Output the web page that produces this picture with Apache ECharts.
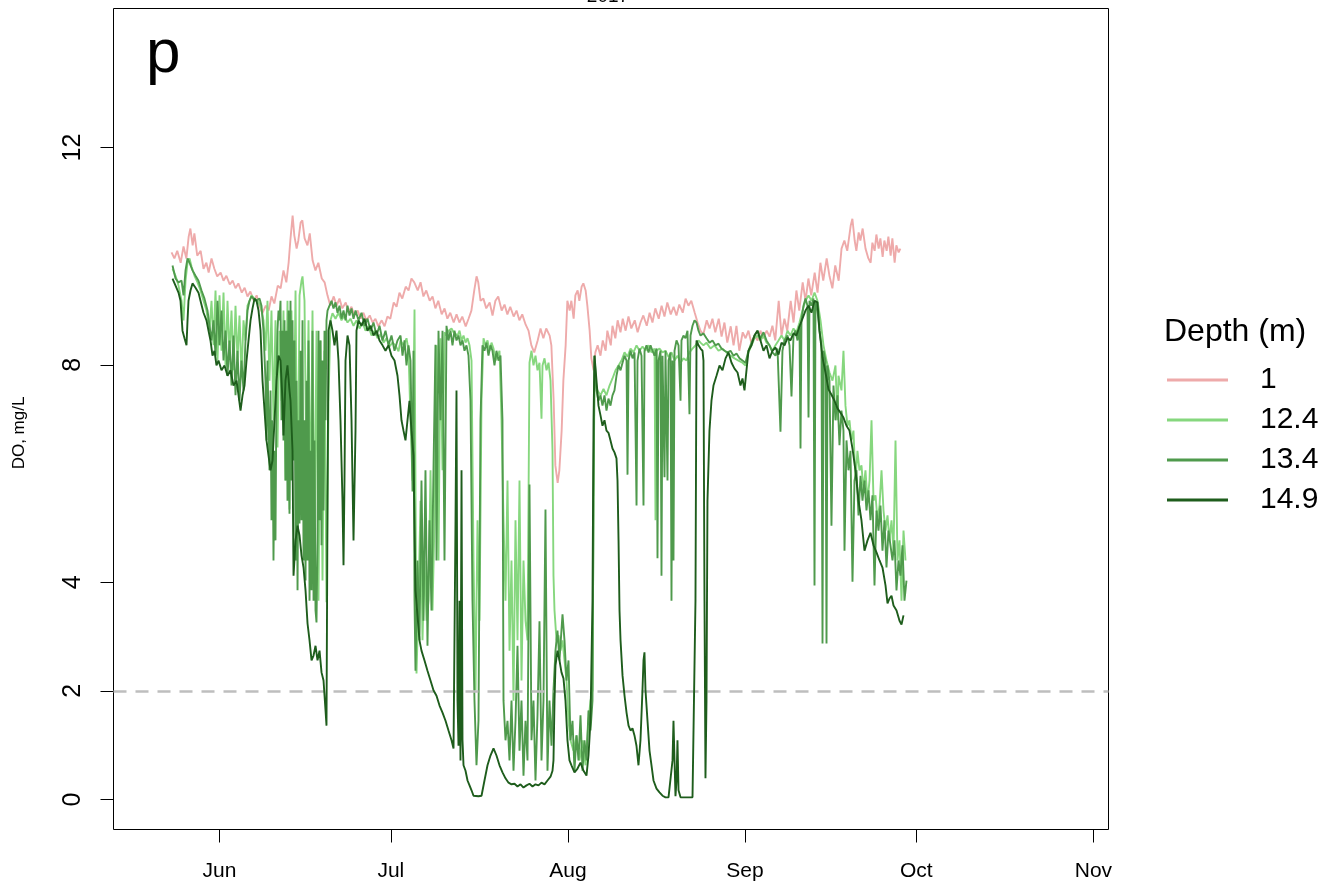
<!DOCTYPE html>
<html><head><meta charset="utf-8">
<script src="https://cdn.jsdelivr.net/npm/echarts@6/dist/echarts.min.js"></script>
<style>html,body{margin:0;padding:0;background:#fff}#c{width:1326px;height:885px}</style>
</head><body><div id="c"></div>
<script>
// x = days since 1 June 2017, y = dissolved oxygen (mg/L)
const monthNames = ['Jun','Jul','Aug','Sep','Oct','Nov'];
const monthStartDays = [0,30,61,92,122,153];
const yTicks = [0,2,4,8,12];
const depthNames = ['1','12.4','13.4','14.9'];
const hypoxiaThreshold = 2;
const panelLetter = 'p';
const yearTitle = '2017';
const yAxisTitle = 'DO, mg/L';
const legendTitle = 'Depth (m)';

const do_1m = [[-8.4,10.07],[-7.9,9.96],[-7.4,10.10],[-6.8,9.88],[-6.3,10.18],[-5.8,9.96],[-5.4,10.36],[-5.1,10.51],[-4.7,10.20],[-4.4,10.42],[-3.9,10.01],[-3.3,10.10],[-2.8,9.77],[-2.3,9.88],[-1.9,9.70],[-1.4,9.96],[-0.9,9.77],[-0.4,9.63],[0.2,9.70],[0.7,9.55],[1.2,9.64],[1.8,9.48],[2.3,9.55],[2.8,9.41],[3.3,9.50],[3.9,9.33],[4.4,9.42],[4.9,9.26],[5.4,9.35],[6.0,9.18],[6.5,9.28],[7.0,9.09],[7.5,8.95],[8.1,9.09],[8.6,9.00],[9.1,9.26],[9.6,9.13],[10.2,9.46],[10.7,9.41],[11.2,9.74],[11.7,9.52],[12.1,9.88],[12.4,10.29],[12.8,10.75],[13.1,10.38],[13.5,10.14],[13.8,10.29],[14.2,10.62],[14.5,10.66],[14.9,10.33],[15.4,10.20],[15.8,10.42],[16.3,9.92],[16.8,9.74],[17.3,9.88],[17.9,9.59],[18.4,9.52],[18.9,9.28],[19.4,9.09],[20.0,9.26],[20.5,9.09],[21.0,9.22],[21.5,9.04],[22.1,9.15],[22.6,8.96],[23.1,9.07],[23.6,8.91],[24.2,9.00],[24.7,8.85],[25.2,8.96],[25.7,8.82],[26.3,8.91],[26.8,8.78],[27.3,8.85],[27.8,8.71],[28.4,8.82],[28.9,8.71],[29.4,8.89],[29.9,8.85],[30.5,9.15],[31.0,9.07],[31.5,9.33],[32.0,9.22],[32.6,9.44],[33.1,9.37],[33.6,9.59],[34.1,9.52],[34.7,9.37],[35.2,9.52],[35.7,9.26],[36.2,9.37],[36.8,9.18],[37.3,9.26],[37.8,9.04],[38.3,9.18],[38.9,8.93],[39.4,9.04],[39.9,8.85],[40.4,8.96],[41.0,8.78],[41.5,8.93],[42.0,8.78],[42.5,8.89],[43.1,8.71],[43.6,8.85],[44.1,9.00],[44.6,9.37],[45.0,9.63],[45.3,9.52],[45.7,9.18],[46.2,9.22],[46.7,9.04],[47.3,9.15],[47.8,8.91],[48.3,9.18],[48.8,9.26],[49.4,9.00],[49.9,9.11],[50.4,8.93],[50.9,9.07],[51.5,8.89],[52.0,9.00],[52.5,8.82],[53.0,8.93],[53.6,8.74],[54.1,8.63],[54.6,8.36],[55.1,8.23],[55.7,8.45],[56.2,8.67],[56.7,8.49],[57.2,8.67],[57.8,8.54],[58.1,8.36],[58.5,7.34],[58.8,6.15],[59.2,5.83],[59.5,6.06],[59.9,6.79],[60.2,7.71],[60.6,8.36],[60.9,9.18],[61.3,9.00],[61.6,9.18],[62.0,8.85],[62.3,9.28],[62.7,9.37],[63.0,9.18],[63.4,9.44],[63.7,9.50],[64.1,9.37],[64.4,9.09],[64.8,8.63],[65.1,8.12],[65.5,7.90],[65.8,8.23],[66.2,8.36],[66.7,8.17],[67.1,8.45],[67.6,8.26],[67.9,8.63],[68.5,8.36],[68.8,8.72],[69.3,8.49],[69.7,8.82],[70.2,8.60],[70.6,8.85],[71.1,8.63],[71.6,8.89],[72.1,8.67],[72.7,8.82],[73.2,8.60],[73.7,8.78],[74.2,8.91],[74.8,8.72],[75.3,8.96],[75.8,8.78],[76.3,9.04],[76.9,8.85],[77.4,9.09],[77.9,8.89],[78.4,9.15],[79.0,8.93],[79.5,9.07],[80.0,8.91],[80.5,9.11],[81.1,8.96],[81.6,9.22],[82.1,9.09],[82.6,9.18],[83.2,8.96],[83.7,8.78],[84.2,8.63],[84.7,8.56],[85.3,8.82],[85.8,8.67],[86.3,8.85],[86.8,8.60],[87.4,8.85],[87.9,8.52],[88.4,8.78],[88.9,8.41],[89.5,8.71],[90.0,8.36],[90.5,8.72],[91.0,8.26],[91.6,8.60],[92.1,8.49],[92.6,8.63],[93.1,8.41],[93.7,8.54],[94.2,8.45],[94.7,8.63],[95.2,8.49],[95.8,8.63],[96.3,8.52],[96.8,8.72],[97.3,8.45],[97.9,9.18],[98.4,8.54],[98.9,8.85],[99.4,8.63],[100.0,9.18],[100.5,8.78],[101.0,9.37],[101.5,9.00],[102.1,9.52],[102.6,9.18],[103.1,9.59],[103.6,9.28],[104.2,9.70],[104.7,9.33],[105.2,9.88],[105.7,9.55],[106.3,9.96],[106.8,9.63],[107.3,9.41],[107.8,9.83],[108.4,9.55],[108.9,10.14],[109.4,10.29],[109.9,10.10],[110.5,10.56],[110.8,10.69],[111.2,10.29],[111.5,10.10],[111.9,10.44],[112.2,10.29],[112.6,10.51],[113.1,10.14],[113.6,9.96],[114.0,9.88],[114.3,10.25],[114.7,10.10],[115.0,10.40],[115.4,10.14],[115.7,10.33],[116.1,9.99],[116.4,10.29],[116.8,10.10],[117.1,10.36],[117.5,10.01],[117.8,10.33],[118.2,9.88],[118.5,10.20],[118.9,10.07],[119.2,10.14]];

const do_12_4m = [[-8.23,9.77],[-7.70,9.64],[-7.18,9.46],[-6.65,9.18],[-6.30,8.82],[-5.95,9.55],[-5.60,9.88],[-5.25,9.96],[-4.90,9.81],[-4.38,9.64],[-3.85,9.52],[-3.33,9.37],[-2.80,9.18],[-2.28,9.00],[-1.75,8.63],[-1.40,9.18],[-1.05,8.36],[-0.70,9.37],[-0.35,8.08],[0.00,9.28],[0.35,8.26],[0.70,9.33],[1.05,7.99],[1.40,9.18],[1.75,8.17],[2.10,9.00],[2.45,7.90],[2.80,9.09],[3.15,8.08],[3.50,8.91],[3.85,7.80],[4.20,8.82],[4.55,8.45],[4.90,9.09],[5.25,9.18],[5.60,9.28],[6.13,9.22],[6.65,9.18],[7.18,9.09],[7.70,8.82],[8.05,8.26],[8.40,9.18],[8.75,7.71],[9.10,9.00],[9.45,6.98],[9.80,8.82],[10.15,6.48],[10.50,8.63],[10.85,7.34],[11.20,9.00],[11.55,5.87],[11.90,9.18],[12.25,5.34],[12.60,9.00],[12.96,6.42],[13.31,9.37],[13.66,5.02],[14.01,9.28],[14.36,9.55],[14.53,9.63],[14.88,9.18],[15.23,5.87],[15.58,8.82],[15.93,5.14],[16.28,9.00],[16.63,4.40],[16.98,8.63],[17.33,3.66],[17.68,8.45],[18.03,4.03],[18.38,8.26],[18.73,3.63],[19.08,7.34],[19.43,8.82],[19.78,8.95],[20.31,8.85],[20.83,8.96],[21.36,8.82],[21.88,8.91],[22.41,8.78],[22.93,8.85],[23.46,8.72],[23.98,8.82],[24.51,8.67],[25.04,8.78],[25.56,8.63],[26.09,8.71],[26.61,8.54],[27.14,8.63],[27.66,8.49],[28.19,8.56],[28.71,8.41],[29.24,8.49],[29.76,8.34],[30.29,8.41],[30.81,8.36],[31.34,8.25],[31.69,8.45],[32.21,8.36],[32.74,8.49],[33.09,8.26],[33.44,6.98],[33.79,5.87],[34.14,9.02],[34.49,2.32],[34.84,3.66],[35.19,5.50],[35.54,2.93],[35.89,4.40],[36.24,3.29],[36.59,3.66],[36.94,6.06],[37.29,3.48],[37.64,5.14],[37.99,8.36],[38.34,4.40],[38.69,8.49],[39.04,6.06],[39.39,8.60],[39.74,8.54],[40.09,8.63],[40.62,8.67],[40.97,8.60],[41.32,8.63],[41.67,8.54],[42.02,8.63],[42.37,8.45],[42.72,8.54],[43.07,8.41],[43.42,8.49],[43.77,8.36],[44.12,8.08],[44.47,4.40],[44.82,2.01],[45.17,5.14],[45.52,3.29],[45.87,7.34],[46.22,8.49],[46.57,8.36],[46.92,8.45],[47.27,8.26],[47.62,8.41],[47.97,8.30],[48.32,8.08],[48.67,8.17],[49.02,8.26],[49.37,6.98],[49.72,5.14],[50.07,3.66],[50.42,5.87],[50.77,2.74],[51.12,4.40],[51.47,1.82],[51.82,5.14],[52.17,2.93],[52.52,5.87],[52.87,2.19],[53.22,4.40],[53.57,3.29],[53.92,2.93],[54.10,5.50],[54.27,8.04],[54.62,8.26],[54.97,7.99],[55.32,8.17],[55.67,7.90],[56.02,8.04],[56.37,7.01],[56.55,7.99],[56.90,8.12],[57.25,7.90],[57.60,8.04],[57.95,7.71],[58.30,6.42],[58.47,4.12],[58.65,3.48],[59.00,2.93],[59.35,3.02],[59.70,2.74],[60.05,2.93],[60.40,2.56],[60.75,2.19],[61.10,1.45],[61.45,1.09],[61.97,0.90],[62.50,1.18],[63.03,0.72],[63.55,1.09],[64.08,0.63],[64.60,1.45],[64.95,1.82],[65.30,2.01],[65.48,5.50],[65.65,7.71],[66.18,7.53],[66.70,7.44],[67.23,7.56],[67.75,7.44],[68.28,7.62],[68.80,7.75],[69.33,7.90],[69.86,7.99],[70.38,8.08],[70.91,8.23],[71.43,8.15],[71.96,8.30],[72.48,8.23],[73.01,8.36],[73.53,8.26],[74.06,8.34],[74.58,8.26],[75.11,8.36],[75.63,8.23],[76.16,8.30],[76.33,5.14],[76.51,8.26],[77.03,8.30],[77.56,8.23],[78.08,8.26],[78.61,8.15],[79.13,8.23],[79.66,8.08],[80.18,8.17],[80.71,8.04],[81.23,8.12],[81.76,8.08],[82.28,8.23],[82.81,8.30],[83.33,8.36],[83.86,8.45],[84.21,8.41],[84.73,8.36],[85.26,8.41],[85.96,8.30],[86.66,8.36],[87.36,8.26],[88.06,8.30],[88.76,8.23],[89.46,8.17],[90.16,8.12],[90.86,8.08],[91.56,8.04],[92.09,7.99],[92.61,8.23],[93.14,8.36],[93.66,8.49],[94.19,8.54],[94.71,8.45],[95.24,8.54],[95.76,8.41],[96.29,8.36],[96.81,8.26],[97.34,8.36],[97.87,8.45],[98.39,8.54],[98.92,8.45],[99.44,8.63],[99.96,8.54],[100.49,8.67],[101.01,8.60],[101.54,8.78],[102.06,9.00],[102.59,9.18],[103.12,9.28],[103.64,9.18],[104.17,9.33],[104.69,9.18],[105.22,8.82],[105.74,8.36],[106.27,8.08],[106.79,7.86],[107.32,7.71],[107.84,7.99],[108.19,6.98],[108.37,7.80],[108.89,7.53],[109.24,8.26],[109.59,7.25],[109.94,6.88],[110.29,6.98],[110.64,6.61],[110.99,6.79],[111.34,5.87],[111.69,6.42],[112.04,6.06],[112.39,6.15],[112.74,5.69],[113.09,6.06],[113.45,5.50],[113.80,5.87],[114.15,6.98],[114.50,5.50],[114.85,5.60],[115.20,5.14],[115.55,5.41],[115.90,6.06],[116.25,5.32],[116.60,4.95],[116.95,5.23],[117.30,4.77],[117.65,5.14],[118.00,4.58],[118.35,6.61],[118.70,4.40],[119.05,4.77],[119.40,3.66],[119.75,4.95],[120.10,4.40]];

const do_13_4m = [[-8.23,9.83],[-7.70,9.59],[-7.18,9.52],[-6.65,9.55],[-6.30,9.28],[-5.95,9.74],[-5.60,9.96],[-5.25,9.88],[-4.73,9.74],[-4.20,9.64],[-3.68,9.55],[-3.15,9.37],[-2.63,9.22],[-2.10,9.00],[-1.75,8.72],[-1.40,8.45],[-1.05,8.82],[-0.70,8.17],[-0.35,9.18],[0.00,8.36],[0.35,9.00],[0.70,8.08],[1.05,8.63],[1.40,7.80],[1.75,8.45],[2.10,7.62],[2.45,8.54],[2.80,7.44],[3.15,8.26],[3.50,7.34],[3.85,8.08],[4.20,7.53],[4.55,8.45],[4.90,9.00],[5.25,9.18],[5.60,9.26],[5.95,9.22],[6.30,9.18],[6.65,9.15],[7.00,9.22],[7.35,9.09],[7.70,8.63],[8.05,7.71],[8.23,6.61],[8.40,8.08],[8.58,6.98],[8.75,6.06],[8.93,7.53],[9.10,5.14],[9.28,6.98],[9.45,4.40],[9.63,6.42],[9.80,4.77],[9.98,7.71],[10.15,8.63],[10.33,9.00],[10.50,8.82],[10.68,9.18],[10.85,6.98],[11.03,8.63],[11.20,6.61],[11.38,8.82],[11.55,5.87],[11.73,8.63],[11.90,5.50],[12.08,9.00],[12.25,5.26],[12.43,9.18],[12.60,5.87],[12.78,8.82],[12.96,6.24],[13.13,8.45],[13.31,4.40],[13.48,7.71],[13.66,3.85],[13.83,6.98],[14.01,5.08],[14.18,8.26],[14.36,5.14],[14.53,8.82],[14.71,4.40],[14.88,6.98],[15.06,4.03],[15.23,7.71],[15.41,4.40],[15.58,8.45],[15.76,3.66],[15.93,6.42],[16.11,3.85],[16.28,8.63],[16.46,3.66],[16.63,6.61],[16.81,3.48],[16.98,3.26],[17.16,4.77],[17.33,8.63],[17.51,5.14],[17.68,8.45],[17.86,4.68],[18.03,8.08],[18.21,5.32],[18.38,8.63],[18.56,6.98],[18.73,8.82],[18.91,9.00],[19.26,9.09],[19.61,9.18],[19.96,9.04],[20.31,9.15],[20.66,8.96],[21.01,9.09],[21.36,8.85],[21.71,9.00],[22.06,8.82],[22.41,9.09],[22.76,8.91],[23.11,9.04],[23.46,8.85],[23.81,9.00],[24.33,8.82],[24.86,8.96],[25.39,8.72],[25.91,8.85],[26.44,8.63],[26.96,8.78],[27.49,8.54],[28.01,8.72],[28.54,8.45],[29.06,8.63],[29.59,8.36],[30.11,8.54],[30.64,8.26],[31.16,8.45],[31.69,8.54],[32.04,8.17],[32.39,8.45],[32.74,7.99],[33.09,8.36],[33.44,8.08],[33.61,6.98],[33.79,5.67],[33.96,8.26],[34.14,3.66],[34.31,2.37],[34.66,4.40],[35.01,2.93],[35.36,5.87],[35.71,3.29],[36.06,6.06],[36.41,2.83],[36.76,5.14],[37.11,3.48],[37.46,6.06],[37.81,8.37],[37.99,4.40],[38.34,8.63],[38.69,6.98],[39.04,8.63],[39.39,4.40],[39.74,8.72],[40.09,8.45],[40.44,8.63],[40.79,8.36],[41.14,8.63],[41.49,8.45],[41.84,8.54],[42.19,8.36],[42.54,8.45],[42.89,8.26],[43.24,8.36],[43.59,8.17],[43.94,7.34],[44.29,3.66],[44.64,1.82],[44.99,0.63],[45.34,1.45],[45.69,6.98],[46.04,8.36],[46.39,8.26],[46.74,8.41],[47.09,8.17],[47.44,8.36],[47.79,8.26],[48.14,7.99],[48.49,8.26],[48.84,8.08],[49.19,8.17],[49.54,6.98],[49.72,1.82],[50.07,1.09],[50.42,1.45],[50.77,0.72],[51.12,1.82],[51.47,0.53],[51.82,1.45],[52.17,2.83],[52.52,0.90],[52.87,1.82],[53.22,0.44],[53.57,1.45],[53.92,0.72],[54.27,5.80],[54.62,1.09],[54.97,1.82],[55.32,0.35],[55.67,1.55],[56.02,3.28],[56.37,0.72],[56.72,1.82],[57.07,5.34],[57.42,0.53],[57.77,1.82],[58.12,0.99],[58.47,2.01],[58.82,2.74],[59.17,3.11],[59.52,2.56],[60.05,3.41],[60.40,2.93],[60.75,2.19],[61.10,2.56],[61.45,1.09],[61.80,1.45],[62.15,0.53],[62.50,1.18],[62.85,0.72],[63.20,1.55],[63.55,0.53],[63.90,1.09],[64.25,0.72],[64.60,1.64],[64.95,1.27],[65.30,1.82],[65.48,5.50],[65.65,8.17],[66.00,7.53],[66.35,7.34],[66.70,7.44],[67.05,7.25],[67.40,7.44],[67.75,7.16],[68.10,7.38],[68.45,7.25],[68.80,7.44],[69.15,7.53],[69.50,7.80],[69.86,7.99],[70.21,7.90],[70.56,8.04],[70.91,8.17],[71.26,8.08],[71.43,5.98],[71.61,8.08],[71.96,8.26],[72.31,8.12],[72.66,8.23],[73.01,5.41],[73.18,8.08],[73.53,8.30],[73.88,8.17],[74.23,5.41],[74.41,8.26],[74.76,8.36],[75.11,8.23],[75.46,8.36],[75.81,8.26],[76.16,8.17],[76.51,8.30],[76.68,4.44],[76.86,8.08],[77.21,8.26],[77.38,4.12],[77.56,8.17],[77.91,5.93],[78.08,8.26],[78.43,5.87],[78.61,8.08],[78.96,8.23],[79.13,3.66],[79.31,8.08],[79.48,4.40],[79.66,8.26],[80.01,8.45],[80.36,8.36],[80.71,7.34],[80.88,8.45],[81.23,8.54],[81.58,8.49],[81.93,8.63],[82.28,7.09],[82.46,8.54],[82.81,8.72],[83.16,8.82],[83.51,8.78],[83.86,8.63],[84.21,8.54],[84.73,8.58],[85.26,8.49],[85.78,8.41],[86.31,8.45],[86.83,8.36],[87.36,8.39],[87.88,8.30],[88.41,8.26],[88.94,8.23],[89.46,8.26],[89.99,8.17],[90.51,8.21],[91.04,8.12],[91.56,8.08],[92.09,8.04],[92.61,8.26],[93.14,8.41],[93.66,8.54],[94.19,8.63],[94.71,8.49],[95.24,8.60],[95.76,8.45],[96.29,8.36],[96.81,8.23],[97.34,8.17],[97.69,8.30],[98.21,6.77],[98.56,8.26],[98.91,8.45],[99.44,8.54],[99.79,8.36],[100.14,7.42],[100.49,8.54],[100.84,8.63],[101.19,8.45],[101.54,8.72],[101.72,6.46],[101.89,8.82],[102.24,9.09],[102.59,9.22],[102.94,9.09],[103.12,7.03],[103.29,9.18],[103.64,9.09],[103.99,9.22],[104.17,3.94],[104.34,9.18],[104.69,9.00],[105.04,8.63],[105.39,8.36],[105.57,2.87],[105.74,8.26],[106.09,8.08],[106.27,2.87],[106.44,7.99],[106.79,7.71],[107.14,5.04],[107.49,7.62],[107.84,6.98],[108.19,7.44],[108.54,6.52],[108.89,7.16],[109.24,6.79],[109.42,4.58],[109.77,6.61],[110.12,6.06],[110.47,6.42],[110.82,4.01],[111.17,5.87],[111.52,6.06],[111.87,5.23],[112.22,5.96],[112.57,5.50],[112.92,5.87],[113.27,5.32],[113.62,5.69],[113.97,5.14],[114.32,5.60],[114.67,3.94],[115.02,5.32],[115.37,4.95],[115.72,5.41],[116.07,4.58],[116.42,5.14],[116.77,4.27],[117.12,4.95],[117.47,4.68],[117.82,4.40],[118.17,4.77],[118.52,3.85],[118.87,4.40],[119.22,4.12],[119.57,4.68],[119.92,3.66],[120.27,4.03]];

const do_14_9m = [[-8.23,9.59],[-7.70,9.46],[-7.18,9.33],[-6.83,9.18],[-6.48,8.63],[-6.13,8.49],[-5.78,8.36],[-5.60,8.82],[-5.43,9.18],[-5.08,9.37],[-4.73,9.50],[-4.20,9.42],[-3.68,9.33],[-3.33,9.18],[-2.80,8.96],[-2.28,8.82],[-1.93,8.63],[-1.58,8.45],[-1.23,8.17],[-0.88,8.26],[-0.53,7.99],[-0.18,8.08],[0.35,7.90],[0.88,7.99],[1.40,7.80],[1.93,7.90],[2.45,7.62],[2.98,7.71],[3.33,7.44],[3.68,7.16],[4.03,7.44],[4.38,7.62],[4.73,8.08],[5.08,8.45],[5.43,8.82],[5.78,9.04],[6.13,9.22],[6.48,9.18],[6.83,9.00],[7.18,8.63],[7.53,7.71],[7.88,7.16],[8.23,6.61],[8.58,6.33],[8.93,6.06],[9.28,6.24],[9.63,6.98],[9.98,7.71],[10.33,8.17],[10.68,8.08],[11.03,7.34],[11.20,6.70],[11.55,7.71],[11.90,7.99],[12.25,7.53],[12.43,7.34],[12.78,6.42],[12.96,4.12],[13.31,4.77],[13.66,5.04],[14.01,4.86],[14.36,4.49],[14.71,4.27],[15.06,3.85],[15.41,3.24],[15.76,2.93],[16.11,2.56],[16.46,2.65],[16.81,2.83],[17.16,2.56],[17.51,2.74],[17.86,2.34],[18.21,2.19],[18.56,1.64],[18.73,1.36],[18.91,5.50],[19.08,8.63],[19.43,8.82],[19.78,8.63],[20.13,8.36],[20.48,8.63],[20.83,8.08],[21.18,6.98],[21.53,5.50],[21.71,4.31],[21.88,5.87],[22.06,8.08],[22.41,8.54],[22.76,8.36],[23.11,6.98],[23.46,4.77],[23.81,6.79],[23.98,8.63],[24.33,8.82],[24.86,8.72],[25.39,8.85],[25.91,8.63],[26.44,8.72],[26.96,8.54],[27.49,8.63],[28.01,8.45],[28.54,8.36],[29.06,8.26],[29.59,8.36],[30.11,8.17],[30.64,8.08],[31.16,7.80],[31.51,7.44],[31.86,6.98],[32.21,6.79],[32.56,6.61],[32.91,6.98],[33.26,7.34],[33.61,6.79],[33.96,6.33],[34.31,3.85],[34.66,3.39],[35.01,2.93],[35.36,2.74],[35.89,2.56],[36.41,2.37],[36.94,2.19],[37.46,2.01],[37.99,1.91],[38.52,1.73],[39.04,1.60],[39.57,1.45],[40.09,1.27],[40.62,1.09],[40.97,0.94],[41.32,5.14],[41.49,7.53],[41.67,1.82],[41.84,0.99],[42.02,3.66],[42.19,0.72],[42.37,6.06],[42.54,1.09],[42.72,0.63],[43.07,0.53],[43.42,0.35],[43.77,0.26],[44.12,0.17],[44.47,0.07],[44.82,0.04],[45.34,0.06],[45.87,0.07],[46.39,0.35],[46.92,0.63],[47.44,0.81],[47.97,0.94],[48.49,0.81],[49.02,0.63],[49.54,0.50],[50.07,0.39],[50.60,0.31],[51.12,0.28],[51.65,0.29],[52.17,0.24],[52.70,0.28],[53.22,0.22],[53.75,0.26],[54.27,0.29],[54.80,0.24],[55.32,0.28],[55.85,0.26],[56.37,0.31],[56.90,0.28],[57.42,0.35],[57.95,0.42],[58.30,0.53],[58.47,0.72],[58.65,1.82],[58.82,2.47],[59.17,2.74],[59.52,2.56],[59.87,2.34],[60.22,2.23],[60.57,1.82],[60.92,1.09],[61.27,0.72],[61.62,0.63],[62.15,0.50],[62.68,0.57],[63.20,0.68],[63.73,0.53],[64.25,0.44],[64.60,0.81],[64.95,1.45],[65.30,3.66],[65.48,6.98],[65.65,8.17],[66.00,7.71],[66.35,7.25],[66.70,7.07],[67.05,6.88],[67.40,6.98],[67.75,6.79],[68.10,6.75],[68.45,6.61],[68.80,6.46],[69.15,6.39],[69.50,6.28],[69.68,5.87],[69.86,4.77],[70.03,3.48],[70.21,2.93],[70.56,2.28],[70.91,1.91],[71.26,1.60],[71.61,1.36],[71.96,1.27],[72.30,1.31],[72.65,1.18],[73.00,0.99],[73.35,0.63],[73.70,1.09],[74.05,2.01],[74.23,2.56],[74.40,2.71],[74.58,2.01],[74.93,1.45],[75.28,0.90],[75.63,0.63],[75.98,0.35],[76.51,0.20],[77.03,0.13],[77.56,0.07],[78.08,0.04],[78.61,0.04],[78.96,0.07],[79.31,0.72],[79.48,1.45],[79.66,0.72],[79.83,0.06],[80.01,0.35],[80.18,1.09],[80.36,0.17],[80.71,0.04],[81.41,0.04],[82.11,0.04],[82.81,0.04],[83.16,0.04],[83.33,3.66],[83.51,8.45],[83.86,8.36],[84.21,8.30],[84.56,8.26],[84.73,8.08],[84.91,3.66],[85.08,0.39],[85.26,1.82],[85.43,5.50],[85.78,6.79],[86.13,7.34],[86.48,7.62],[87.01,7.80],[87.54,7.99],[88.06,7.90],[88.59,8.12],[89.11,8.23],[89.64,8.04],[90.16,7.93],[90.69,7.86],[91.21,7.62],[91.56,7.75],[91.91,7.53],[92.26,7.90],[92.61,8.26],[93.14,8.36],[93.66,8.54],[94.19,8.63],[94.71,8.45],[95.24,8.26],[95.76,8.36],[96.29,8.12],[96.81,8.26],[97.34,8.32],[97.87,8.19],[98.39,8.41],[98.92,8.36],[99.44,8.50],[99.96,8.45],[100.49,8.58],[101.01,8.54],[101.54,8.71],[102.06,8.85],[102.59,9.00],[103.12,9.09],[103.64,8.96],[104.17,9.18],[104.69,9.15],[105.04,8.63],[105.57,8.14],[106.09,7.86],[106.62,7.55],[107.14,7.45],[107.67,7.34],[108.19,7.20],[108.72,7.12],[109.24,7.03],[109.77,6.88],[110.29,6.79],[110.82,6.46],[111.34,6.06],[111.87,5.50],[112.39,5.14],[112.92,4.58],[113.45,4.77],[113.97,4.91],[114.50,4.68],[115.02,4.55],[115.55,4.40],[116.07,4.27],[116.60,3.94],[116.95,3.61],[117.30,3.70],[117.65,3.75],[118.00,3.57],[118.53,3.48],[119.05,3.29],[119.40,3.22],[119.75,3.39]];

const seriesData = [do_1m, do_12_4m, do_13_4m, do_14_9m];
const seriesColors = ['#eeaaaa', '#86d77e', '#4f9a4c', '#1e5d1c'];

const FONT = 'Liberation Sans, Arial, sans-serif';
const chart = echarts.init(document.getElementById('c'), null, {renderer: 'canvas'});

const series = depthNames.map((name, i) => ({
  name: name,
  type: 'line',
  data: seriesData[i],
  showSymbol: false,
  symbol: 'none',
  sampling: null,
  clip: true,
  lineStyle: {color: seriesColors[i], width: 1.9},
  itemStyle: {color: seriesColors[i]},
  z: 2 + i,
  markLine: i === 0 ? {
    silent: true,
    symbol: ['none', 'none'],
    label: {show: false},
    lineStyle: {color: '#bebebe', type: [13, 9], width: 2.5},
    data: [{yAxis: hypoxiaThreshold}]
  } : undefined
}));

chart.setOption({
  animation: false,
  backgroundColor: '#ffffff',
  textStyle: {fontFamily: FONT},
  grid: {left: 113.5, right: 217.5, top: 8.5, bottom: 55.5, show: true, borderColor: '#000', borderWidth: 1, backgroundColor: 'transparent'},
  xAxis: {
    type: 'value', min: -18.56, max: 155.64,
    axisLine: {show: false, onZero: false},
    splitLine: {show: false},
    axisTick: {show: true, customValues: monthStartDays, length: 13, lineStyle: {color: '#000', width: 1}},
    axisLabel: {
      customValues: monthStartDays,
      formatter: v => monthNames[monthStartDays.indexOf(v)] || '',
      fontSize: 21, color: '#000', margin: 31, fontFamily: FONT
    }
  },
  yAxis: {
    type: 'value', min: -0.552, max: 14.56,
    axisLine: {show: false, onZero: false},
    splitLine: {show: false},
    axisTick: {show: true, customValues: yTicks, length: 13, lineStyle: {color: '#000', width: 1}},
    axisLabel: {customValues: yTicks, rotate: 90, fontSize: 25, color: '#000', margin: 28, fontFamily: FONT}
  },
  legend: {
    show: true, orient: 'vertical', left: 1167, top: 365, padding: 0,
    icon: 'rect', itemWidth: 61, itemHeight: 3, itemGap: 10,
    data: depthNames,
    selectedMode: false,
    textStyle: {fontSize: 30, color: '#000', fontFamily: FONT, lineHeight: 30, padding: [0, 0, 0, 27]}
  },
  graphic: [
    {type: 'text', left: 146, top: 24, style: {text: panelLetter, fontSize: 62, fill: '#000', fontFamily: FONT}},
    {type: 'text', x: 608, y: 6, style: {text: yearTitle, fontSize: 19, fill: '#000', fontFamily: FONT, align: 'center', verticalAlign: 'bottom'}},
    {type: 'text', x: 19, y: 433, rotation: Math.PI / 2, style: {text: yAxisTitle, fontSize: 17, fill: '#000', fontFamily: FONT, align: 'center', verticalAlign: 'middle'}},
    {type: 'text', left: 1164, top: 316, style: {text: legendTitle, fontSize: 32, fill: '#000', fontFamily: FONT}}
  ],
  series: series
});
</script>
</body></html>
